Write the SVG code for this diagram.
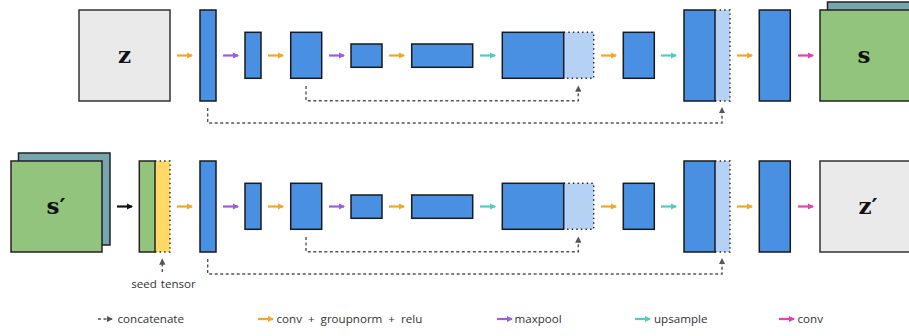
<svg xmlns="http://www.w3.org/2000/svg" width="909" height="336" viewBox="0 0 909 336">
<defs>
<style>
.blk{fill:#4A90E2;stroke:#1a1a1a;stroke-width:1.5}
.ext{fill:#B5D1F3;stroke:none}
.dot{fill:none;stroke:#222;stroke-width:1.4;stroke-dasharray:1.4 3.2}
.gray{fill:#EAEAEA;stroke:#333;stroke-width:1.5}
.grn{fill:#93C47D;stroke:#222;stroke-width:1.5}
.back{fill:#76A5AF;stroke:#222;stroke-width:1.5}
.yel{fill:#FFD966;stroke:none}
.a{fill:none;stroke-width:2.2}
.or{stroke:#F5A623}.pu{stroke:#9B5DE5}.te{stroke:#4ECDC4}.pk{stroke:#E83EB0}.bk{stroke:#111}
.sk{fill:none;stroke:#555;stroke-width:1.4;stroke-dasharray:3 2.5}
.math{font-family:"DejaVu Serif","Liberation Serif",serif;font-weight:bold;font-size:23px;fill:#111;text-anchor:middle}
.lab{font-family:"Open Sans","Noto Sans",sans-serif;font-size:11.6px;fill:#333}
</style>
<marker id="mor" viewBox="0 0 6 6" refX="5" refY="3" markerWidth="3" markerHeight="3" orient="auto"><path d="M0,0L6,3L0,6z" fill="#F5A623"/></marker>
<marker id="mpu" viewBox="0 0 6 6" refX="5" refY="3" markerWidth="3" markerHeight="3" orient="auto"><path d="M0,0L6,3L0,6z" fill="#9B5DE5"/></marker>
<marker id="mte" viewBox="0 0 6 6" refX="5" refY="3" markerWidth="3" markerHeight="3" orient="auto"><path d="M0,0L6,3L0,6z" fill="#4ECDC4"/></marker>
<marker id="mpk" viewBox="0 0 6 6" refX="5" refY="3" markerWidth="3" markerHeight="3" orient="auto"><path d="M0,0L6,3L0,6z" fill="#E83EB0"/></marker>
<marker id="mbk" viewBox="0 0 6 6" refX="5" refY="3" markerWidth="3" markerHeight="3" orient="auto"><path d="M0,0L6,3L0,6z" fill="#111"/></marker>
<marker id="mgr" viewBox="0 0 6 6" refX="5" refY="3" markerWidth="4.5" markerHeight="4.5" orient="auto"><path d="M0,0L6,3L0,6z" fill="#555"/></marker>
</defs>

<!-- Top row -->
<g id="z-input"><rect class="gray" x="79" y="10" width="91" height="91"/><text class="math" x="124.5" y="63">z</text></g>
<g id="t1"><rect class="blk" x="200" y="10" width="16" height="91"/></g>
<g id="t2"><rect class="blk" x="245" y="32.3" width="16" height="46"/></g>
<g id="t3"><rect class="blk" x="290.7" y="32.3" width="31" height="46"/></g>
<g id="t4"><rect class="blk" x="351" y="44" width="31" height="23.3"/></g>
<g id="t5"><rect class="blk" x="411.7" y="44" width="61" height="23.3"/></g>
<g id="t6"><rect class="ext" x="563.7" y="32.3" width="30" height="46"/><path class="dot" d="M563.7,32.3H593.7V78.3H563.7"/><rect class="blk" x="502.3" y="32.3" width="61.4" height="46"/></g>
<g id="t7"><rect class="blk" x="623.3" y="32.3" width="31" height="46"/></g>
<g id="t8"><rect class="ext" x="715" y="10" width="15" height="91"/><path class="dot" d="M715,10H730V101H715"/><rect class="blk" x="684" y="10" width="31" height="91"/></g>
<g id="t9"><rect class="blk" x="759.3" y="10" width="31" height="91"/></g>
<g id="s-output"><rect class="back" x="827.5" y="2" width="100" height="91"/><rect class="grn" x="820" y="10" width="100" height="91"/><text class="math" x="864" y="63">s</text></g>

<!-- Bottom row -->
<g id="s-prime"><rect class="back" x="18.5" y="153" width="91.5" height="92"/><rect class="grn" x="11" y="161" width="91" height="91"/><text class="math" x="56" y="214">s′</text></g>
<g id="seed-stack"><rect class="yel" x="155" y="161" width="15" height="91"/><path class="dot" d="M155,161H170V252H155"/><rect class="grn" x="139.3" y="161" width="15.7" height="91"/></g>
<g id="seed-label"><text class="lab" x="163.5" y="288" text-anchor="middle" word-spacing="1">seed tensor</text></g>
<g id="b1"><rect class="blk" x="200" y="161" width="16" height="91"/></g>
<g id="b2"><rect class="blk" x="245" y="183.3" width="16" height="46"/></g>
<g id="b3"><rect class="blk" x="290.7" y="183.3" width="31" height="46"/></g>
<g id="b4"><rect class="blk" x="351" y="195" width="31" height="23.3"/></g>
<g id="b5"><rect class="blk" x="411.7" y="195" width="61" height="23.3"/></g>
<g id="b6"><rect class="ext" x="563.7" y="183.3" width="30" height="46"/><path class="dot" d="M563.7,183.3H593.7V229.3H563.7"/><rect class="blk" x="502.3" y="183.3" width="61.4" height="46"/></g>
<g id="b7"><rect class="blk" x="623.3" y="183.3" width="31" height="46"/></g>
<g id="b8"><rect class="ext" x="715" y="161" width="15" height="91"/><path class="dot" d="M715,161H730V252H715"/><rect class="blk" x="684" y="161" width="31" height="91"/></g>
<g id="b9"><rect class="blk" x="759.3" y="161" width="31" height="91"/></g>
<g id="z-prime"><rect class="gray" x="820" y="161" width="100" height="91"/><text class="math" x="868" y="214">z′</text></g>

<!-- Connectors -->
<g id="connectors">
<line class="a or" x1="177" y1="55.5" x2="192" y2="55.5" marker-end="url(#mor)"/>
<line class="a pu" x1="223" y1="55.5" x2="238" y2="55.5" marker-end="url(#mpu)"/>
<line class="a or" x1="268" y1="55.5" x2="283" y2="55.5" marker-end="url(#mor)"/>
<line class="a pu" x1="329" y1="55.5" x2="344" y2="55.5" marker-end="url(#mpu)"/>
<line class="a or" x1="389" y1="55.5" x2="404" y2="55.5" marker-end="url(#mor)"/>
<line class="a te" x1="480" y1="55.5" x2="495" y2="55.5" marker-end="url(#mte)"/>
<line class="a or" x1="601" y1="55.5" x2="616" y2="55.5" marker-end="url(#mor)"/>
<line class="a te" x1="661" y1="55.5" x2="676" y2="55.5" marker-end="url(#mte)"/>
<line class="a or" x1="737" y1="55.5" x2="752" y2="55.5" marker-end="url(#mor)"/>
<line class="a pk" x1="798" y1="55.5" x2="813" y2="55.5" marker-end="url(#mpk)"/>

<line class="a bk" x1="117" y1="206.5" x2="132" y2="206.5" marker-end="url(#mbk)"/>
<line class="a or" x1="177" y1="206.5" x2="192" y2="206.5" marker-end="url(#mor)"/>
<line class="a pu" x1="223" y1="206.5" x2="238" y2="206.5" marker-end="url(#mpu)"/>
<line class="a or" x1="268" y1="206.5" x2="283" y2="206.5" marker-end="url(#mor)"/>
<line class="a pu" x1="329" y1="206.5" x2="344" y2="206.5" marker-end="url(#mpu)"/>
<line class="a or" x1="389" y1="206.5" x2="404" y2="206.5" marker-end="url(#mor)"/>
<line class="a te" x1="480" y1="206.5" x2="495" y2="206.5" marker-end="url(#mte)"/>
<line class="a or" x1="601" y1="206.5" x2="616" y2="206.5" marker-end="url(#mor)"/>
<line class="a te" x1="661" y1="206.5" x2="676" y2="206.5" marker-end="url(#mte)"/>
<line class="a or" x1="737" y1="206.5" x2="752" y2="206.5" marker-end="url(#mor)"/>
<line class="a pk" x1="798" y1="206.5" x2="813" y2="206.5" marker-end="url(#mpk)"/>

<path class="sk" d="M207.7,108V123H722V108" marker-end="url(#mgr)"/>
<path class="sk" d="M306,86V100.7H578.3V86.5" marker-end="url(#mgr)"/>
<path class="sk" d="M207.7,259V274H722V259" marker-end="url(#mgr)"/>
<path class="sk" d="M306,237V251.7H578.3V237.5" marker-end="url(#mgr)"/>
<path class="sk" d="M162.3,272V259.5" marker-end="url(#mgr)"/>
</g>

<!-- Legend -->
<g id="legend">
<path class="sk" d="M98,319H112" marker-end="url(#mgr)"/>
<text class="lab" x="117.5" y="323">concatenate</text>
<line class="a or" x1="258" y1="319" x2="273" y2="319" marker-end="url(#mor)"/>
<text class="lab" x="276.5" y="323" word-spacing="3">conv + groupnorm + relu</text>
<line class="a pu" x1="497" y1="319" x2="512" y2="319" marker-end="url(#mpu)"/>
<text class="lab" x="514.5" y="323">maxpool</text>
<line class="a te" x1="635" y1="319" x2="650" y2="319" marker-end="url(#mte)"/>
<text class="lab" x="654" y="323">upsample</text>
<line class="a pk" x1="779" y1="319" x2="794" y2="319" marker-end="url(#mpk)"/>
<text class="lab" x="797.5" y="323">conv</text>
</g>
</svg>
